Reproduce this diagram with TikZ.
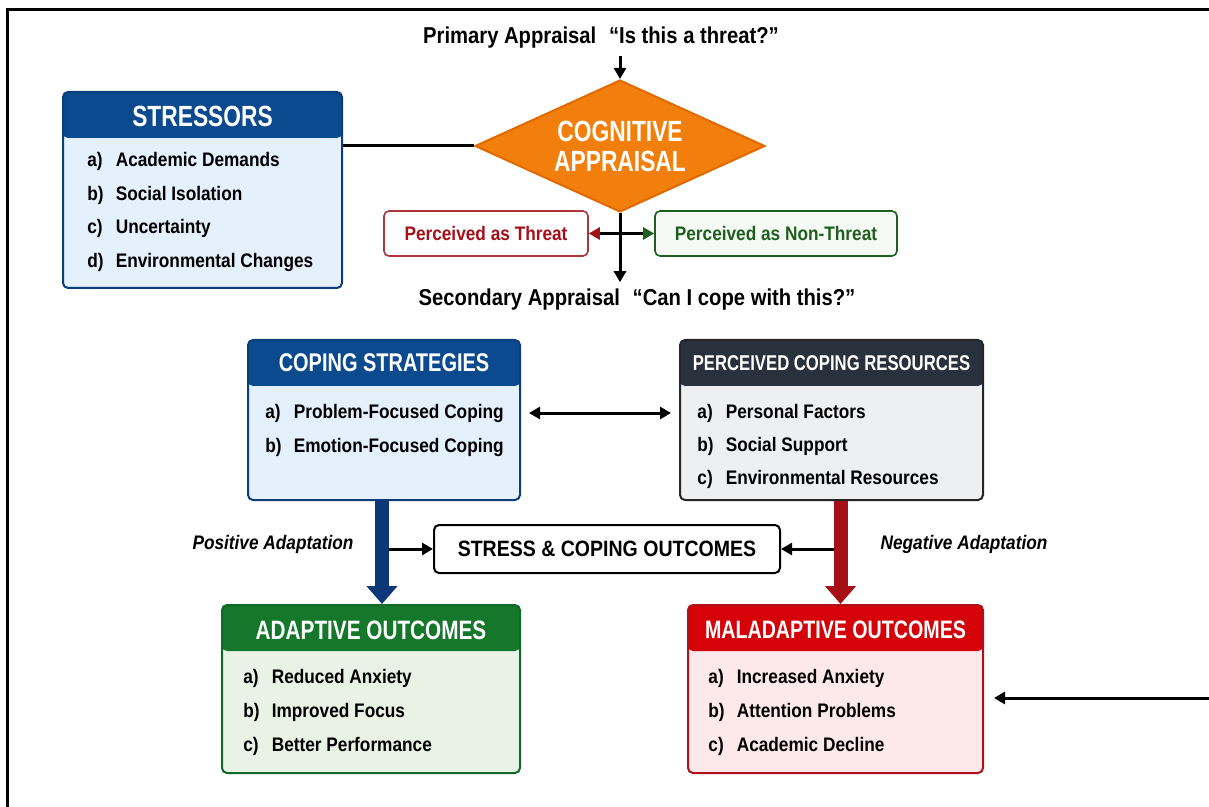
\documentclass[tikz,border=0pt]{standalone}
\usepackage{fontspec}
\setmainfont{Liberation Sans}[FakeStretch=0.88]
\newfontfamily\hdfont{Liberation Sans}[FakeStretch=0.78]
\usetikzlibrary{shapes.geometric,arrows.meta}

\definecolor{strBlue}{HTML}{0B4A8E}
\definecolor{strBody}{HTML}{E4F0FB}
\definecolor{strLine}{HTML}{0A3D7A}
\definecolor{resHead}{HTML}{28313C}
\definecolor{resBody}{HTML}{EEEFF1}
\definecolor{adaHead}{HTML}{14772A}
\definecolor{adaBody}{HTML}{E8F3E6}
\definecolor{adaLine}{HTML}{13692A}
\definecolor{malHead}{HTML}{D50208}
\definecolor{malBody}{HTML}{FDE9E9}
\definecolor{malLine}{HTML}{B0101A}
\definecolor{cogOrange}{HTML}{F27F0C}
\definecolor{cogLine}{HTML}{E06A00}
\definecolor{thrRed}{HTML}{A3101A}
\definecolor{nthrGreen}{HTML}{1E5E1E}
\definecolor{fatBlue}{HTML}{0D3778}
\definecolor{fatRed}{HTML}{A50F15}

\newcommand{\li}[2]{\makebox[1.45em][l]{#1}#2}

\tikzset{
  panel/.style={draw, line width=1pt, rounded corners=2.5pt, inner sep=0pt},
  hdr/.style={path picture={\fill[#1] (path picture bounding box.north west) rectangle ([yshift=-23pt]path picture bounding box.north east);}},
  ttl/.style={text=white, align=center, font=\hdfont\bfseries\fontsize{#1}{15}\selectfont},
  itm/.style={anchor=west, inner sep=0pt, font=\bfseries\fontsize{9.8}{12}\selectfont},
  lbl/.style={font=\bfseries\fontsize{11.5}{13}\selectfont},
  ap/.tip={Triangle[length=5.5pt,width=6pt]},
  arr/.style={line width=1.5pt, -ap},
  fat/.style={line width=7pt, -{Triangle[length=9pt,width=15pt]}},
}

\begin{document}
\begin{tikzpicture}[x=0.5pt, y=-0.5pt]
\useasboundingbox (0,0) rectangle (1209,807);
\draw[line width=1.5pt] (7,807) -- (7,10) -- (1209,10);

\node[lbl] (prim) at (601,38) {Primary Appraisal\hspace{0.55em}“Is this a threat?”};
\node[diamond, aspect=2.2, fill=cogOrange, draw=cogLine, line width=1pt, minimum width=145pt, minimum height=66pt, inner sep=0pt, ttl=14.6] (cog) at (620,146) {COGNITIVE\\APPRAISAL};
\draw[arr] (prim.south -| cog.north) -- (cog.north);

\node[panel, draw=strLine, fill=strBody, hdr=strBlue, minimum width=139.5pt, minimum height=98pt] (str) at (202.5,190) {};
\node[ttl=14.6] (strt) at (202.5,116) {STRESSORS};
\node[itm] (str1) at (87,161) {\li{a)}{Academic Demands}};
\node[itm] (str2) at (87,195) {\li{b)}{Social Isolation}};
\node[itm] (str3) at (87,228) {\li{c)}{Uncertainty}};
\node[itm] (str4) at (87,262) {\li{d)}{Environmental Changes}};
\draw[line width=1.5pt] (str.east |- cog.west) -- (cog.west);

\node[draw=thrRed!85, line width=0.8pt, rounded corners=2.5pt, fill=white, minimum width=102pt, minimum height=22.5pt, text=thrRed, font=\bfseries\fontsize{9.8}{12}\selectfont] (thr) at (486,233.5) {Perceived as Threat};
\node[draw=nthrGreen, line width=0.8pt, rounded corners=2.5pt, fill=adaBody!40, minimum width=121pt, minimum height=22.5pt, text=nthrGreen, font=\bfseries\fontsize{9.8}{12}\selectfont] (nthr) at (776,233.5) {Perceived as Non-Threat};

\node[lbl] (sec) at (637,300) {Secondary Appraisal\hspace{0.55em}“Can I cope with this?”};
\draw[arr] (cog.south) -- (cog.south |- sec.north);
\draw[line width=1.5pt, -{Triangle[length=5.5pt,width=6pt,color=thrRed]}] (cog.south |- thr.east) -- (thr.east);
\draw[line width=1.5pt, -{Triangle[length=5.5pt,width=6pt,color=nthrGreen]}] (cog.south |- nthr.west) -- (nthr.west);

\node[panel, draw=strLine, fill=strBody, hdr=strBlue, minimum width=136pt, minimum height=80pt] (cop) at (384,420) {};
\node[ttl=12.8] (copt) at (384,363) {COPING STRATEGIES};
\node[itm] (cop1) at (265,413) {\li{a)}{Problem-Focused Coping}};
\node[itm] (cop2) at (265,447) {\li{b)}{Emotion-Focused Coping}};

\node[panel, draw=black!85, fill=resBody, hdr=resHead, minimum width=151.5pt, minimum height=80pt] (res) at (831.5,420) {};
\node[ttl=10.7] (rest) at (831.5,363) {PERCEIVED COPING RESOURCES};
\node[itm] (res1) at (697,413) {\li{a)}{Personal Factors}};
\node[itm] (res2) at (697,446) {\li{b)}{Social Support}};
\node[itm] (res3) at (697,479) {\li{c)}{Environmental Resources}};
\draw[line width=1.5pt, ap-ap, shorten <=4pt, shorten >=4pt] (cop.east |- cop1) -- (res.west |- cop1);

\node[draw, line width=1pt, rounded corners=2.5pt, fill=white, minimum width=173pt, minimum height=24pt, font=\bfseries\fontsize{11.1}{13}\selectfont] (out) at (607,549) {STRESS \& COPING OUTCOMES};

\node[panel, draw=adaLine, fill=adaBody, hdr=adaHead, minimum width=149pt, minimum height=84pt] (ada) at (371,689) {};
\node[ttl=13.3] (adat) at (371,630) {ADAPTIVE OUTCOMES};
\node[itm] (ada1) at (243,678) {\li{a)}{Reduced Anxiety}};
\node[itm] (ada2) at (243,712) {\li{b)}{Improved Focus}};
\node[itm] (ada3) at (243,746) {\li{c)}{Better Performance}};

\node[panel, draw=malLine, fill=malBody, hdr=malHead, minimum width=147.5pt, minimum height=84pt] (mal) at (835.5,689) {};
\node[ttl=12.6] (malt) at (835.5,630) {MALADAPTIVE OUTCOMES};
\node[itm] (mal1) at (708,678) {\li{a)}{Increased Anxiety}};
\node[itm] (mal2) at (708,712) {\li{b)}{Attention Problems}};
\node[itm] (mal3) at (708,746) {\li{c)}{Academic Decline}};

\draw[fat, fatBlue] ([xshift=-1pt]cop.south) -- ([xshift=-1pt]cop.south |- ada.north);
\draw[fat, fatRed] ([xshift=4.5pt]res.south) -- ([xshift=4.5pt]res.south |- mal.north);
\draw[arr] ([xshift=2.5pt]cop.south |- out.west) -- (out.west);
\draw[arr] ([xshift=1pt]res.south |- out.east) -- (out.east);

\node[font=\bfseries\itshape\fontsize{9.8}{12}\selectfont] (pos) at (273,544) {Positive Adaptation};
\node[font=\bfseries\itshape\fontsize{9.8}{12}\selectfont] (neg) at (964,544) {Negative Adaptation};

\coordinate (rin) at (1209,698);
\draw[arr, shorten >=5pt] (rin) -- (mal.east |- rin);
\end{tikzpicture}
\end{document}
